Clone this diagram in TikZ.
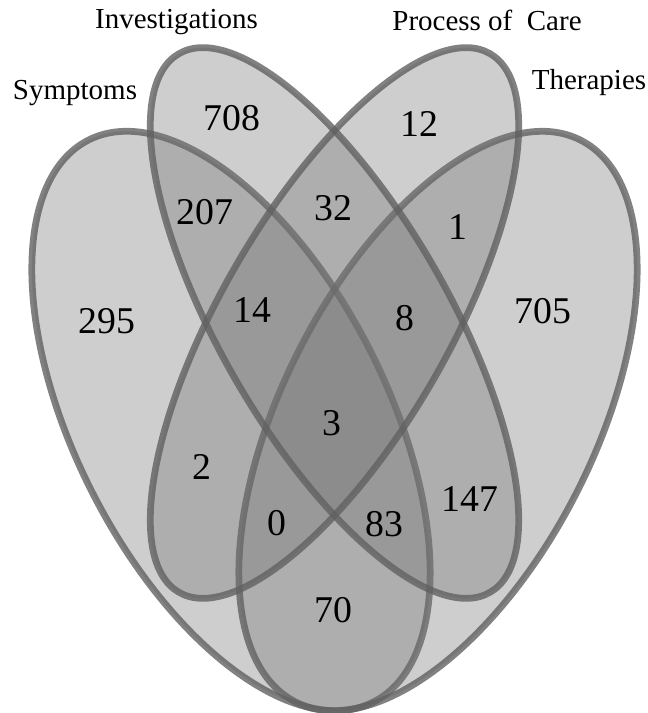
\documentclass[tikz,border=0pt]{standalone}
\usepackage{fontspec}
\setmainfont{Liberation Serif}

\begin{document}
\begin{tikzpicture}[x=0.2mm,y=0.2mm, every node/.style={inner sep=0pt},
  set/.style={fill=black!55,fill opacity=0.35},
  rim/.style={draw=black!62,draw opacity=0.8,line width=1.35mm},
  num/.style={font=\fontsize{21.5}{24}\selectfont},
  lab/.style={font=\fontsize{16.5}{19}\selectfont,anchor=base}]
\useasboundingbox (0,0) rectangle (648,713);
\coordinate (csym) at (231,292);
\coordinate (cther) at (438,292);
\coordinate (cmid) at (334.5,390);
% outer sets
\fill[set,rotate around={-63.1:(csym)}] (csym) ellipse [x radius=63mm,y radius=31.2mm];
\draw[rim,rotate around={-63.1:(csym)}] (csym) ellipse [x radius=63mm,y radius=31.2mm];
\fill[set,rotate around={63.1:(cther)}] (cther) ellipse [x radius=63mm,y radius=31.2mm];
\draw[rim,rotate around={63.1:(cther)}] (cther) ellipse [x radius=63mm,y radius=31.2mm];
% inner sets
\fill[set,rotate around={-60:(cmid)}] (cmid) ellipse [x radius=62.2mm,y radius=22.8mm];
\fill[set,rotate around={60:(cmid)}] (cmid) ellipse [x radius=62.2mm,y radius=22.8mm];
\draw[rim,rotate around={-60:(cmid)}] (cmid) ellipse [x radius=62.2mm,y radius=22.8mm];
\draw[rim,rotate around={60:(cmid)}] (cmid) ellipse [x radius=62.2mm,y radius=22.8mm];
% set names
\node[lab] (symptoms) at (75,613) {Symptoms};
\node[lab] (invest) at (176.5,684) {Investigations};
\node[lab] (process) at (487,682) {Process of\ \ Care};
\node[lab] (therapies) at (589,623) {Therapies};
% counts
\node[num] (n708) at (232,595) {708};
\node[num] (n12) at (419,589) {12};
\node[num] (n207) at (205,501) {207};
\node[num] (n32) at (333,505) {32};
\node[num] (n1) at (458,486) {1};
\node[num] (n295) at (107,392) {295};
\node[num] (n14) at (252,403) {14};
\node[num] (n8) at (405,395) {8};
\node[num] (n705) at (543,402) {705};
\node[num] (n3) at (332,290) {3};
\node[num] (n2) at (202,246) {2};
\node[num] (n0) at (277,190) {0};
\node[num] (n83) at (384,189) {83};
\node[num] (n147) at (470,214) {147};
\node[num] (n70) at (333,103) {70};
\end{tikzpicture}
\end{document}
